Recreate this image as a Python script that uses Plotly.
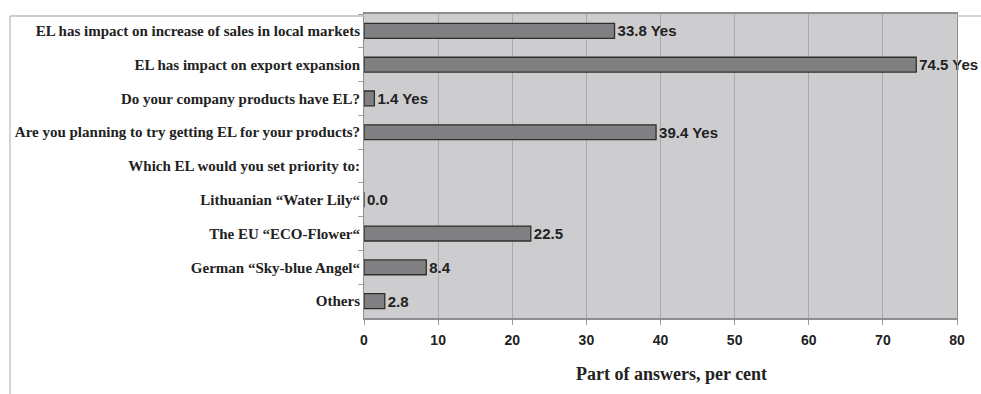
import plotly.graph_objects as go

# Survey answers on eco-labels (EL), share of respondents in per cent
categories = [
    "EL has impact on increase of sales in local markets",
    "EL has impact on export expansion",
    "Do your company products have EL?",
    "Are you planning to try getting EL for your products?",
    "Which EL would you set priority to:",
    "Lithuanian \u201cWater Lily\u201c",
    "The EU \u201cECO-Flower\u201c",
    "German \u201cSky-blue Angel\u201c",
    "Others",
]
values = [33.8, 74.5, 1.4, 39.4, None, 0.0, 22.5, 8.4, 2.8]
suffixes = [" Yes", " Yes", " Yes", " Yes", "", "", "", "", ""]
x_ticks = [0, 10, 20, 30, 40, 50, 60, 70, 80]

labels = ["" if v is None else f"{v:.1f}{s}" for v, s in zip(values, suffixes)]

W, H = 981, 394
L, R, T, B = 364, 24, 14, 76
pw, ph = W - L - R, H - T - B

fig = go.Figure()
fig.add_trace(go.Bar(
    y=categories,
    x=values,
    orientation="h",
    marker=dict(color="#808082", line=dict(color="#2e2e2e", width=1.3)),
    text=labels,
    textposition="outside",
    constraintext="none",
    textfont=dict(family="Liberation Sans", size=15, color="#222222", weight="bold"),
    cliponaxis=False,
    hoverinfo="skip",
))

fig.update_layout(
    width=W, height=H,
    margin=dict(l=L, r=R, t=T, b=B),
    paper_bgcolor="white",
    plot_bgcolor="#cdcdcf",
    bargap=0.56,
    showlegend=False,
    uniformtext=dict(mode=False),
    xaxis=dict(
        range=[0, 80],
        tickvals=x_ticks,
        ticktext=[str(t) for t in x_ticks],
        tickfont=dict(family="Liberation Sans", size=14, color="#222222", weight="bold"),
        ticklabelstandoff=3,
        showgrid=True, gridcolor="#a9a9ab", gridwidth=1,
        zeroline=False,
        showline=True, linecolor="#8e8e90", linewidth=1.5, mirror=True,
        ticks="outside", ticklen=5, tickcolor="#9a9a9a",
        fixedrange=True,
    ),
    yaxis=dict(
        categoryorder="array", categoryarray=categories,
        autorange="reversed",
        tickfont=dict(family="Liberation Serif", size=15, color="#222222", weight="bold"),
        showgrid=False, zeroline=False,
        showline=True, linecolor="#8e8e90", linewidth=1, mirror=True,
        ticks="outside", ticklen=5, tickcolor="#a0a0a0", tickson="boundaries",
        fixedrange=True,
    ),
)

# Axis title
fig.add_annotation(
    text="Part of answers, per cent",
    xref="paper", yref="paper",
    x=(671 - L) / pw, y=(T + ph - 374) / ph,
    xanchor="center", yanchor="middle",
    showarrow=False,
    font=dict(family="Liberation Serif", size=18, color="#222222", weight="bold"),
)

# Outer chart frame (left and top edges)
frame = dict(color="#bdbdbd", width=1.3)
x_left = (10 - L) / pw
y_top = (T + ph - 16) / ph
fig.add_shape(type="line", xref="paper", yref="paper",
              x0=x_left, x1=x_left, y0=y_top, y1=-0.4, line=frame)
fig.add_shape(type="line", xref="paper", yref="paper",
              x0=x_left, x1=0, y0=y_top, y1=y_top, line=frame)
fig.add_shape(type="line", xref="paper", yref="paper",
              x0=1, x1=(W - L) / pw, y0=y_top, y1=y_top, line=frame)

fig.write_html("out.html")
